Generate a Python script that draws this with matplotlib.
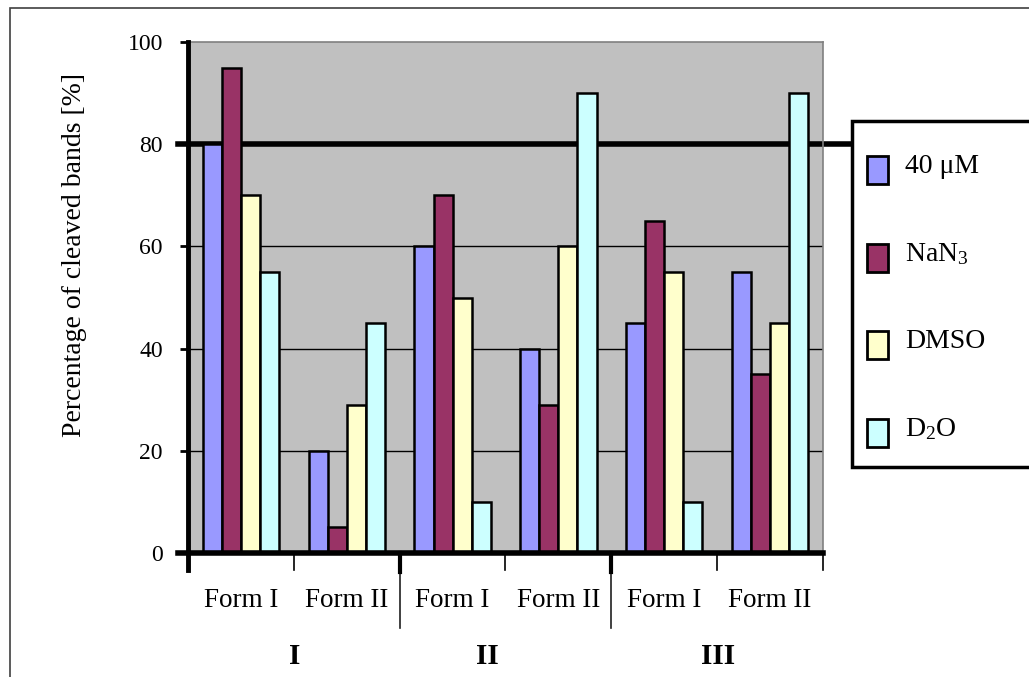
import matplotlib
matplotlib.use("Agg")
import matplotlib.pyplot as plt
from matplotlib.patches import Rectangle
import numpy as np

plt.rcParams["font.family"] = ["Liberation Serif", "DejaVu Serif"]
plt.rcParams["mathtext.fontset"] = "custom"
plt.rcParams["mathtext.rm"] = "Liberation Serif"
plt.rcParams["mathtext.it"] = "Liberation Serif:italic"

groups = ["I", "II", "III"]
forms = ["Form I", "Form II"] * 3
series = ["40 \u03bcM", "NaN$_3$", "DMSO", "D$_2$O"]
colors = ["#9999ff", "#993366", "#ffffcc", "#ccffff"]

v_40uM = [80, 20, 60, 40, 45, 55]
v_nan3 = [95, 5, 70, 29, 65, 35]
v_dmso = [70, 29, 50, 60, 55, 45]
v_d2o = [55, 45, 10, 90, 10, 90]
values = [v_40uM, v_nan3, v_dmso, v_d2o]

W, H = 1029, 677
fig = plt.figure(figsize=(W / 100, H / 100), dpi=100)
fig.patch.set_facecolor("white")


def fx(px):
    return px / W


def fy(py):
    return 1 - py / H


# outer frame
fig.patches.append(Rectangle((fx(10), fy(700)), fx(1040), fy(8) - fy(700),
                             transform=fig.transFigure, fill=False,
                             edgecolor="#404040", lw=1.2))

ax = fig.add_axes([fx(188), fy(553), fx(823) - fx(188), fy(42) - fy(553)])
ax.set_facecolor("#c0c0c0")
ax.set_xlim(-0.5, 5.5)
ax.set_ylim(0, 100)
for s in ["left", "bottom"]:
    ax.spines[s].set_visible(False)
for s in ["top", "right"]:
    ax.spines[s].set_color("#808080")
    ax.spines[s].set_linewidth(1.2)

x = np.arange(len(forms))
bw = 0.18
for i, (vals, c) in enumerate(zip(values, colors)):
    ax.bar(x + (i - 1.5) * bw, vals, bw, color=c, edgecolor="black",
           linewidth=1.8, zorder=3)

# gridlines
for g in [20, 40, 60]:
    ax.plot([-0.5, 5.5], [g, g], color="black", lw=1.0, zorder=1)
ax.plot([-0.59, 5.77], [80, 80], color="black", lw=4.0, zorder=1, clip_on=False)

# axis lines
ax.plot([-0.5, -0.5], [-3.3, 100], color="black", lw=3.5, zorder=5, clip_on=False)
ax.plot([-0.59, 5.5], [0, 0], color="black", lw=4.0, zorder=5, clip_on=False)
for t in [0.5, 2.5, 4.5, 5.5]:
    ax.plot([t, t], [0, -3.3], color="black", lw=1.2, clip_on=False)
for t in [1.5, 3.5]:
    ax.plot([t, t], [0, -14.7], color="#202020", lw=1.2, clip_on=False)
    ax.plot([t, t], [0, -3.8], color="black", lw=3, clip_on=False)

ax.set_xticks([])
ax.set_yticks(range(0, 101, 20))
ax.tick_params(axis="y", length=6, width=2, pad=12, labelsize=17)

for xi, f in zip(x, forms):
    ax.text(xi, -9.3, f, ha="center", va="center", fontsize=19.5, clip_on=False)
for gx, g in zip([0.51, 2.33, 4.51], groups):
    ax.text(gx, -20.3, g, ha="center", va="center", fontsize=21,
            fontweight="bold", clip_on=False)

fig.text(fx(75), fy(255), "Percentage of cleaved bands [%]", rotation=90,
         ha="center", va="center", fontsize=20)

# legend
fig.patches.append(Rectangle((fx(852), fy(467)), fx(1040) - fx(852),
                             fy(121) - fy(467), transform=fig.transFigure,
                             facecolor="white", edgecolor="black", lw=2.5))
for ly, name, c in zip([170, 258, 345, 433], series, colors):
    fig.patches.append(Rectangle((fx(867), fy(ly + 14)), fx(888) - fx(867),
                                 fy(ly - 14) - fy(ly + 14),
                                 transform=fig.transFigure, facecolor=c,
                                 edgecolor="black", lw=2))
    fig.text(fx(905), fy(ly - 4), name, ha="left", va="center", fontsize=20)

fig.savefig("out.png", dpi=100)
